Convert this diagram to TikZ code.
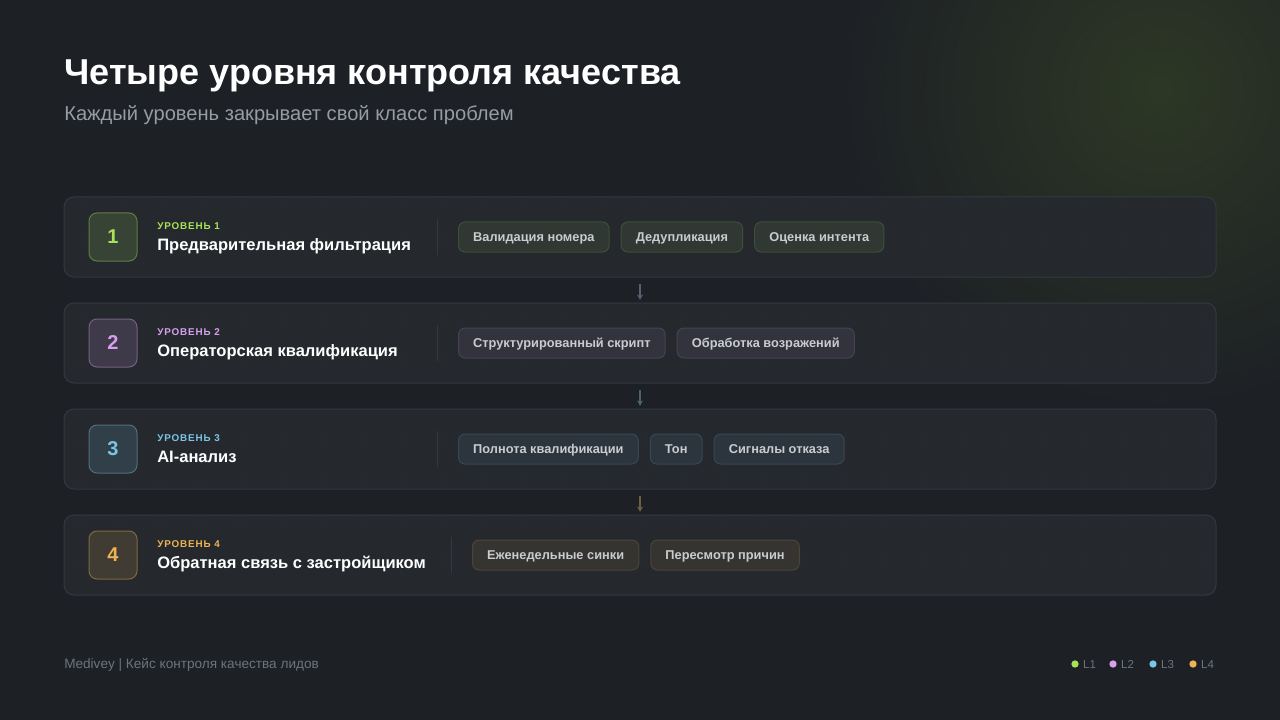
\documentclass[tikz,border=0pt]{standalone}
\usepackage{fontspec}
\setmainfont{Liberation Sans}
\newfontfamily\capsfont[LetterSpace=9]{Liberation Sans}
\usetikzlibrary{positioning,arrows.meta,fadings}

\definecolor{bgcol}{RGB}{29,32,37}
\definecolor{glowcol}{RGB}{45,56,38}
\definecolor{panelcol}{RGB}{37,41,46}
\definecolor{linecol}{RGB}{52,57,63}
\definecolor{levA}{RGB}{168,226,90}
\definecolor{levB}{RGB}{214,160,238}
\definecolor{levC}{RGB}{122,196,230}
\definecolor{levD}{RGB}{238,178,82}
\definecolor{chiptext}{RGB}{200,204,208}
\definecolor{subcol}{RGB}{150,156,164}
\definecolor{footcol}{RGB}{110,116,124}

\tikzfading[name=glowfade, inner color=transparent!0, outer color=transparent!100]

\tikzset{
  panel/.style={draw=linecol, fill=panelcol, rounded corners=7.5pt, minimum width=864pt, minimum height=60pt, line width=0.75pt},
  numbox/.style={draw=#1!45!panelcol, fill=#1!14!panelcol, rounded corners=6pt, minimum width=36pt, minimum height=36pt, inner sep=0pt, line width=0.75pt, text=#1, font=\bfseries\fontsize{15}{15}\selectfont},
  lvllabel/.style={anchor=base west, inner sep=0pt, text=#1, font=\capsfont\bfseries\fontsize{7.4}{7.4}\selectfont},
  lvltitle/.style={anchor=base west, inner sep=0pt, text=white, font=\bfseries\fontsize{12.4}{12.4}\selectfont},
  divider/.style={draw=linecol, line width=0.75pt},
  chip/.style={draw=#1!20!panelcol, fill=#1!8!panelcol, rounded corners=5pt, minimum height=22.5pt, inner xsep=11pt, inner ysep=0pt, text height=6.9pt, text depth=0pt, line width=0.75pt, text=chiptext, font=\bfseries\fontsize{9.6}{9.6}\selectfont},
  flow/.style={-{Stealth[length=4pt,width=4.5pt]}, draw=#1!30!linecol, line width=0.9pt, shorten <=5pt, shorten >=2pt},
  legdot/.style={circle, fill=#1, inner sep=0pt, minimum size=5.5pt},
  legtext/.style={anchor=west, inner sep=0pt, text height=6.2pt, text depth=0pt, text=footcol, font=\fontsize{8.6}{8.6}\selectfont},
}

\begin{document}
\begin{tikzpicture}[x=0.75pt,y=0.75pt,yscale=-1,xscale=1]
\useasboundingbox (0,0) rectangle (1280,720);
\clip (0,0) rectangle (1280,720);

% background
\fill [bgcol] (0,0) rectangle (1280,720);
\fill [glowcol, path fading=glowfade] (1160,90) circle (330);

% title
\node (title) [anchor=base west, inner sep=0pt, text=white, font=\bfseries\fontsize{27}{27}\selectfont] at (64,85) {Четыре уровня контроля качества};
\node (subtitle) [anchor=base west, inner sep=0pt, text=subcol, font=\fontsize{15.1}{15.1}\selectfont] at (64,121) {Каждый уровень закрывает свой класс проблем};

% panels
\node (p1) [panel] at (640,237) {};
\node (p2) [panel] at (640,343) {};
\node (p3) [panel] at (640,449) {};
\node (p4) [panel] at (640,555) {};

% faint dot grid
\foreach \gx in {40,80,...,1240}
  \foreach \gy in {40,80,...,680}
    \fill [white, opacity=0.035] (\gx,\gy) circle (1);

% level 1
\node (n1) [numbox=levA] at (113,237) {1};
\node (l1) [lvllabel=levA] at (157,229) {УРОВЕНЬ 1};
\node (t1) [lvltitle] at (157,250) {Предварительная фильтрация};
\draw [divider] (437,219) -- (437,255);
\node (c11) [chip=levA, anchor=west] at (458,237) {Валидация номера};
\node (c12) [chip=levA, right=8.25pt of c11] {Дедупликация};
\node (c13) [chip=levA, right=8.25pt of c12] {Оценка интента};

% level 2
\node (n2) [numbox=levB] at (113,343) {2};
\node (l2) [lvllabel=levB] at (157,335) {УРОВЕНЬ 2};
\node (t2) [lvltitle] at (157,356) {Операторская квалификация};
\draw [divider] (437,325) -- (437,361);
\node (c21) [chip=levB, anchor=west] at (458,343) {Структурированный скрипт};
\node (c22) [chip=levB, right=8.25pt of c21] {Обработка возражений};

% level 3
\node (n3) [numbox=levC] at (113,449) {3};
\node (l3) [lvllabel=levC] at (157,441) {УРОВЕНЬ 3};
\node (t3) [lvltitle] at (157,462) {AI-анализ};
\draw [divider] (437,431) -- (437,467);
\node (c31) [chip=levC, anchor=west] at (458,449) {Полнота квалификации};
\node (c32) [chip=levC, right=8.25pt of c31] {Тон};
\node (c33) [chip=levC, right=8.25pt of c32] {Сигналы отказа};

% level 4
\node (n4) [numbox=levD] at (113,555) {4};
\node (l4) [lvllabel=levD] at (157,547) {УРОВЕНЬ 4};
\node (t4) [lvltitle] at (157,568) {Обратная связь с застройщиком};
\draw [divider] (451,537) -- (451,573);
\node (c41) [chip=levD, anchor=west] at (472,555) {Еженедельные синки};
\node (c42) [chip=levD, right=8.25pt of c41] {Пересмотр причин};

% flow between levels
\draw [flow=levB] (p1.south) -- (p2.north);
\draw [flow=levC] (p2.south) -- (p3.north);
\draw [flow=levD] (p3.south) -- (p4.north);

% footer
\node (foot) [anchor=west, inner sep=0pt, text height=7pt, text depth=0pt, text=footcol, font=\fontsize{10.2}{10.2}\selectfont] at (64,664) {Medivey | Кейс контроля качества лидов};

% legend
\node (d1) [legdot=levA] at (1075,664) {};
\node (e1) [legtext, right=3pt of d1] {L1};
\node (d2) [legdot=levB] at (1113,664) {};
\node (e2) [legtext, right=3pt of d2] {L2};
\node (d3) [legdot=levC] at (1153,664) {};
\node (e3) [legtext, right=3pt of d3] {L3};
\node (d4) [legdot=levD] at (1193,664) {};
\node (e4) [legtext, right=3pt of d4] {L4};

\end{tikzpicture}
\end{document}
